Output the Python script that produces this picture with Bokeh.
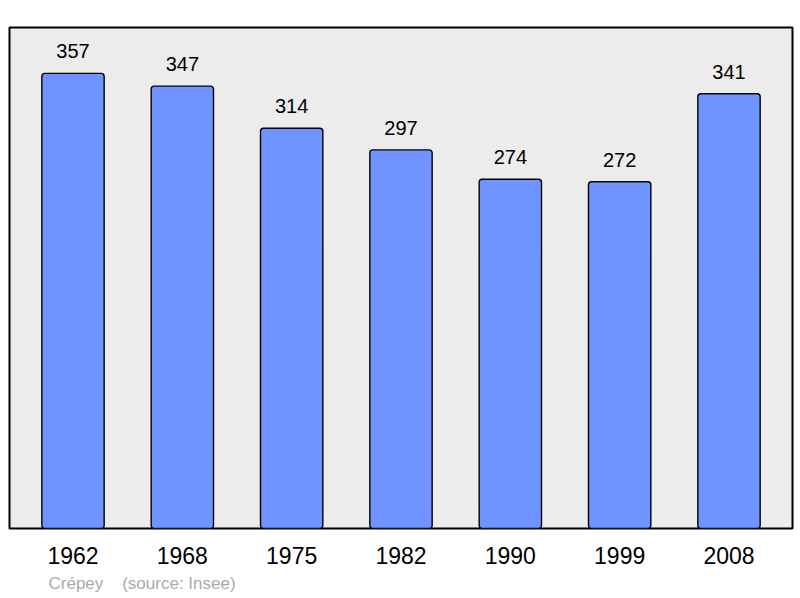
from bokeh.plotting import figure
from bokeh.models import FactorRange, Range1d, ColumnDataSource, LabelSet, Title
from bokeh.core.properties import value
from bokeh.embed import file_html
from bokeh.resources import INLINE

years = ["1962", "1968", "1975", "1982", "1990", "1999", "2008"]
population = [357, 347, 314, 297, 274, 272, 341]
value_labels = [str(v) for v in population]
commune = "Crépey"
source_note = "(source: Insee)"

FONT = "Liberation Sans"

src = ColumnDataSource(dict(x=years, top=population, label=value_labels))

p = figure(
    width=800, height=598,
    x_range=FactorRange(factors=years, range_padding=0.0231),
    y_range=Range1d(0, 393),
    output_backend="svg", toolbar_location=None,
    y_axis_location=None,
    min_border_left=9, min_border_right=8,
    min_border_top=27, min_border_bottom=70,
)
p.background_fill_color = "#ececec"
p.border_fill_color = "white"
p.outline_line_color = "black"
p.outline_line_width = 2
p.grid.visible = False

p.vbar(x="x", top="top", bottom=0, width=0.57, source=src,
       fill_color="#7094ff", line_color="black", line_width=1.4,
       border_radius=3)

labels = LabelSet(x="x", y="top", text="label", source=src,
                  text_align="center", text_baseline="alphabetic",
                  y_offset=15, text_font=value(FONT), text_font_size="20px",
                  text_color="black")
p.add_layout(labels)

ax = p.xaxis[0]
ax.axis_line_color = None
ax.major_tick_line_color = None
ax.minor_tick_line_color = None
ax.major_tick_out = 0
ax.major_label_standoff = 18
ax.major_label_text_font = FONT
ax.major_label_text_font_size = "23px"
ax.major_label_text_color = "black"

footer = Title(text=commune + "\u00a0" * 4 + source_note, align="left",
               offset=39, standoff=11, text_font=FONT, text_font_size="17px",
               text_font_style="normal", text_color="#aaaaaa")
p.add_layout(footer, "below")

open("out.html", "w").write(file_html(p, INLINE))
